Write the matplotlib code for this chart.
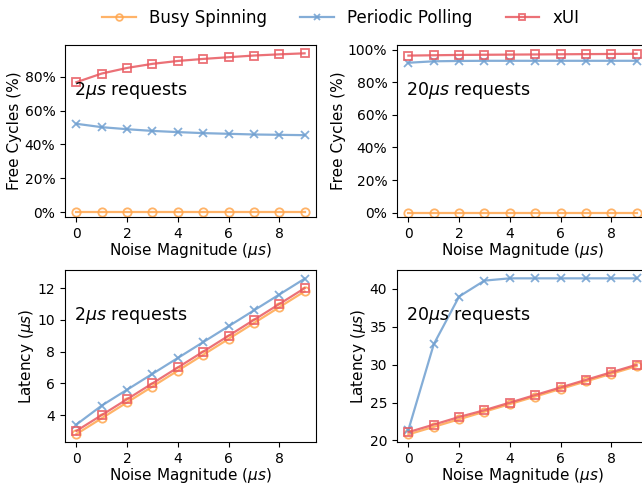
import numpy as np
import matplotlib
matplotlib.use("Agg")
import matplotlib.pyplot as plt
from matplotlib.ticker import PercentFormatter

# ---- data ----
noise = list(range(10))

free_2_busy = [0, 0, 0, 0, 0, 0, 0, 0, 0, 0]
free_2_poll = [52.2, 50.2, 49.0, 48.0, 47.3, 46.7, 46.3, 45.9, 45.7, 45.5]
free_2_xui = [76.7, 81.8, 85.1, 87.5, 89.2, 90.4, 91.4, 92.4, 93.1, 93.7]

free_20_busy = [0, 0, 0, 0, 0, 0, 0, 0, 0, 0]
free_20_poll = [92.0, 92.9, 93.1, 93.2, 93.2, 93.2, 93.2, 93.2, 93.2, 93.2]
free_20_xui = [96.4, 96.6, 96.8, 96.9, 97.0, 97.1, 97.2, 97.3, 97.4, 97.5]

lat_2_busy = [2.8, 3.8, 4.8, 5.8, 6.8, 7.8, 8.8, 9.8, 10.8, 11.8]
lat_2_poll = [3.4, 4.6, 5.6, 6.6, 7.6, 8.6, 9.6, 10.6, 11.6, 12.6]
lat_2_xui = [3.0, 4.0, 5.0, 6.0, 7.0, 8.0, 9.0, 10.0, 11.0, 12.0]

lat_20_busy = [20.8, 21.8, 22.8, 23.8, 24.8, 25.8, 26.8, 27.8, 28.8, 29.8]
lat_20_poll = [21.4, 32.7, 39.0, 41.1, 41.4, 41.4, 41.4, 41.4, 41.4, 41.4]
lat_20_xui = [21.1, 22.1, 23.1, 24.0, 25.0, 26.0, 27.0, 28.0, 29.0, 30.0]

# label, color, marker
STY = {
    "busy": ("Busy Spinning", "#FFA64D", "o"),
    "poll": ("Periodic Polling", "#6F9FD0", "x"),
    "xui": ("xUI", "#E8585F", "s"),
}

plt.rcParams.update({"font.family": "DejaVu Sans", "font.size": 10})

fig = plt.figure(figsize=(6.42, 4.86), dpi=100)
W, H = 642, 486
def add_ax(x0, y0, w, h):
    return fig.add_axes([x0 / W, 1 - (y0 + h) / H, w / W, h / H])

# right column runs past the figure edge, as in the reference
ax_tl = add_ax(65, 45, 251, 172)
ax_tr = add_ax(397, 45, 251, 172)
ax_bl = add_ax(65, 270, 251, 172)
ax_br = add_ax(397, 270, 251, 172)

panels = [
    (ax_tl, free_2_busy, free_2_poll, free_2_xui, "2", "Free Cycles (%)", (-2.7, 98.6)),
    (ax_tr, free_20_busy, free_20_poll, free_20_xui, "20", "Free Cycles (%)", (-2.7, 102.9)),
    (ax_bl, lat_2_busy, lat_2_poll, lat_2_xui, "2", r"Latency ($\mu s$)", (2.3, 13.15)),
    (ax_br, lat_20_busy, lat_20_poll, lat_20_xui, "20", r"Latency ($\mu s$)", (19.8, 42.5)),
]

for ax, busy, poll, xui, req, ylab, ylim in panels:
    for key, ys in (("busy", busy), ("poll", poll), ("xui", xui)):
        lab, col, mk = STY[key]
        ax.plot(noise, ys, color=col, marker=mk, ms=6, lw=1.6, mfc="none",
                mew=1.3, alpha=0.85, label=lab)
    ax.set_ylim(*ylim)
    ax.set_xticks([0, 2, 4, 6, 8])
    ax.set_xlabel(r"Noise Magnitude ($\mu s$)", fontsize=11, labelpad=0.5)
    ax.set_ylabel(ylab, fontsize=11, labelpad=1.5)
    ax.text(0.036, 0.733, rf"${req}\mu s$ requests", transform=ax.transAxes,
            fontsize=12.5, ha="left", va="center")

for ax in (ax_tl, ax_tr):
    ax.yaxis.set_major_formatter(PercentFormatter(decimals=0))
    ax.set_yticks([0, 20, 40, 60, 80] if ax is ax_tl else [0, 20, 40, 60, 80, 100])

handles, labels = ax_tl.get_legend_handles_labels()
fig.legend(handles, labels, loc="upper center", bbox_to_anchor=(0.531, 1.012), ncol=3,
           frameon=False, fontsize=12, columnspacing=2.0, markerscale=0.8)

fig.savefig("out.png", dpi=100)
